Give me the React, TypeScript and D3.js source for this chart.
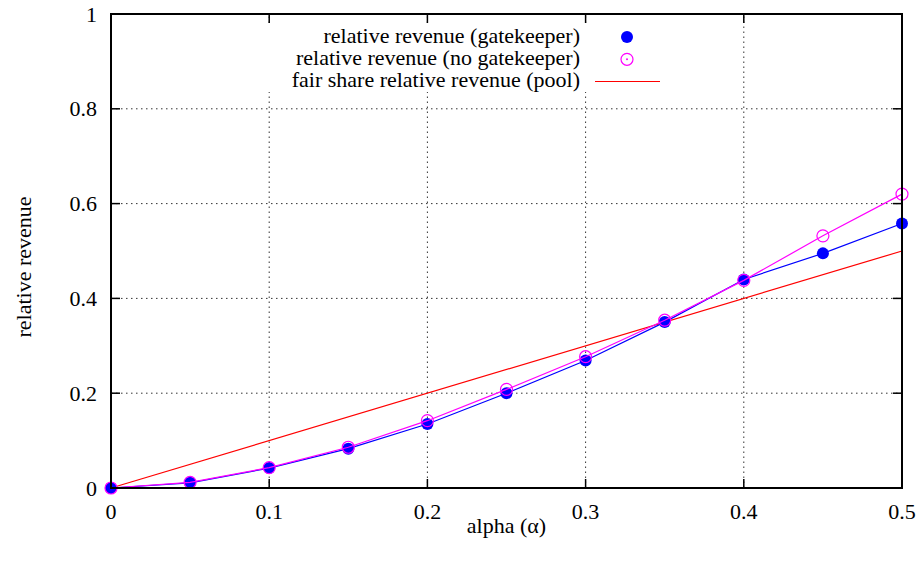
import React from "react";
import * as d3 from "d3";

const alphas = [0, 0.05, 0.1, 0.15, 0.2, 0.25, 0.3, 0.35, 0.4, 0.45, 0.5];
const gatekeeper = [0, 0.011, 0.042, 0.083, 0.135, 0.2, 0.269, 0.35, 0.44, 0.495, 0.558];
const noGatekeeper = [0, 0.012, 0.043, 0.086, 0.142, 0.208, 0.277, 0.354, 0.438, 0.532, 0.62];
const fairShare = [0, 0.5];
const xTicks = [0, 0.1, 0.2, 0.3, 0.4, 0.5];
const yTicks = [0, 0.2, 0.4, 0.6, 0.8, 1];
const legendLabels = [
  "relative revenue (gatekeeper)",
  "relative revenue (no gatekeeper)",
  "fair share relative revenue (pool)",
];

const W = 920, H = 561;
const L = 111, R = 902, T = 14, B = 488;
const FONT = "Liberation Serif";

export default function App() {
  const x = d3.scaleLinear().domain([0, 0.5]).range([L, R]);
  const y = d3.scaleLinear().domain([0, 1]).range([B, T]);
  const line = d3.line<[number, number]>().x(d => x(d[0])).y(d => y(d[1]));
  const gk: [number, number][] = alphas.map((a, i) => [a, gatekeeper[i]]);
  const ngk: [number, number][] = alphas.map((a, i) => [a, noGatekeeper[i]]);
  const fair: [number, number][] = fairShare.map(v => [v, v]);
  const tick = 9;
  const fmt = (v: number) => (v === 0 ? "0" : v === 1 ? "1" : String(v));
  const legX = 580, legY = [37, 59.3, 81.5];
  const ts = { fontFamily: FONT, fontSize: 22 };
  return (
    <svg width={W} height={H} style={{ display: "block", position: "absolute", left: 0, top: 0, background: "#fff", fontFamily: FONT }}>
      <rect x={0} y={0} width={W} height={H} fill="#fff" />
      {/* grid */}
      <g stroke="#333" strokeWidth={1} strokeDasharray="1.5,3.5">
        {xTicks.slice(1, -1).map(t => (
          <line key={"gx" + t} x1={x(t)} x2={x(t)} y1={B} y2={T} />
        ))}
        {yTicks.slice(1, -1).map(t => (
          <line key={"gy" + t} x1={L} x2={R} y1={y(t)} y2={y(t)} />
        ))}
      </g>
      {/* legend background hides grid */}
      <rect x={262} y={24} width={408} height={68} fill="#fff" />
      {/* ticks */}
      <g stroke="#000" strokeWidth={1.5}>
        {xTicks.map(t => (
          <g key={"tx" + t}>
            <line x1={x(t)} x2={x(t)} y1={B} y2={B - tick} />
            <line x1={x(t)} x2={x(t)} y1={T} y2={T + tick} />
          </g>
        ))}
        {yTicks.map(t => (
          <g key={"ty" + t}>
            <line x1={L} x2={L + tick} y1={y(t)} y2={y(t)} />
            <line x1={R} x2={R - tick} y1={y(t)} y2={y(t)} />
          </g>
        ))}
      </g>
      {/* data */}
      <path d={line(fair) || ""} fill="none" stroke="#ff0000" strokeWidth={1.2} />
      <path d={line(gk) || ""} fill="none" stroke="#0000ff" strokeWidth={1.2} />
      {gk.map((d, i) => (
        <circle key={"g" + i} cx={x(d[0])} cy={y(d[1])} r={6} fill="#0000ff" />
      ))}
      <path d={line(ngk) || ""} fill="none" stroke="#ff00ff" strokeWidth={1.2} />
      {ngk.map((d, i) => (
        <circle key={"n" + i} cx={x(d[0])} cy={y(d[1])} r={6} fill="none" stroke="#ff00ff" strokeWidth={1.2} />
      ))}
      {/* frame */}
      <rect x={L} y={T} width={R - L} height={B - T} fill="none" stroke="#000" strokeWidth={2} />
      {/* tick labels */}
      {xTicks.map(t => (
        <text key={"lx" + t} x={x(t)} y={519} textAnchor="middle" style={ts}>{fmt(t)}</text>
      ))}
      {yTicks.map(t => (
        <text key={"ly" + t} x={97} y={y(t) + 7.5} textAnchor="end" style={ts}>{fmt(t)}</text>
      ))}
      <text x={(L + R) / 2} y={533} textAnchor="middle" style={ts}>alpha (α)</text>
      <text transform={`translate(31,267) rotate(-90)`} textAnchor="middle" style={ts}>relative revenue</text>
      {/* legend */}
      {legendLabels.map((s, i) => (
        <text key={"leg" + i} x={legX} y={legY[i] + 5.5} textAnchor="end" style={ts}>{s}</text>
      ))}
      <circle cx={627} cy={legY[0]} r={6} fill="#0000ff" />
      <circle cx={627} cy={legY[1]} r={6} fill="none" stroke="#ff00ff" strokeWidth={1.2} />
      <circle cx={627} cy={legY[1]} r={1} fill="#ff00ff" />
      <line x1={595} x2={660} y1={legY[2]} y2={legY[2]} stroke="#ff0000" strokeWidth={1.2} />
    </svg>
  );
}
